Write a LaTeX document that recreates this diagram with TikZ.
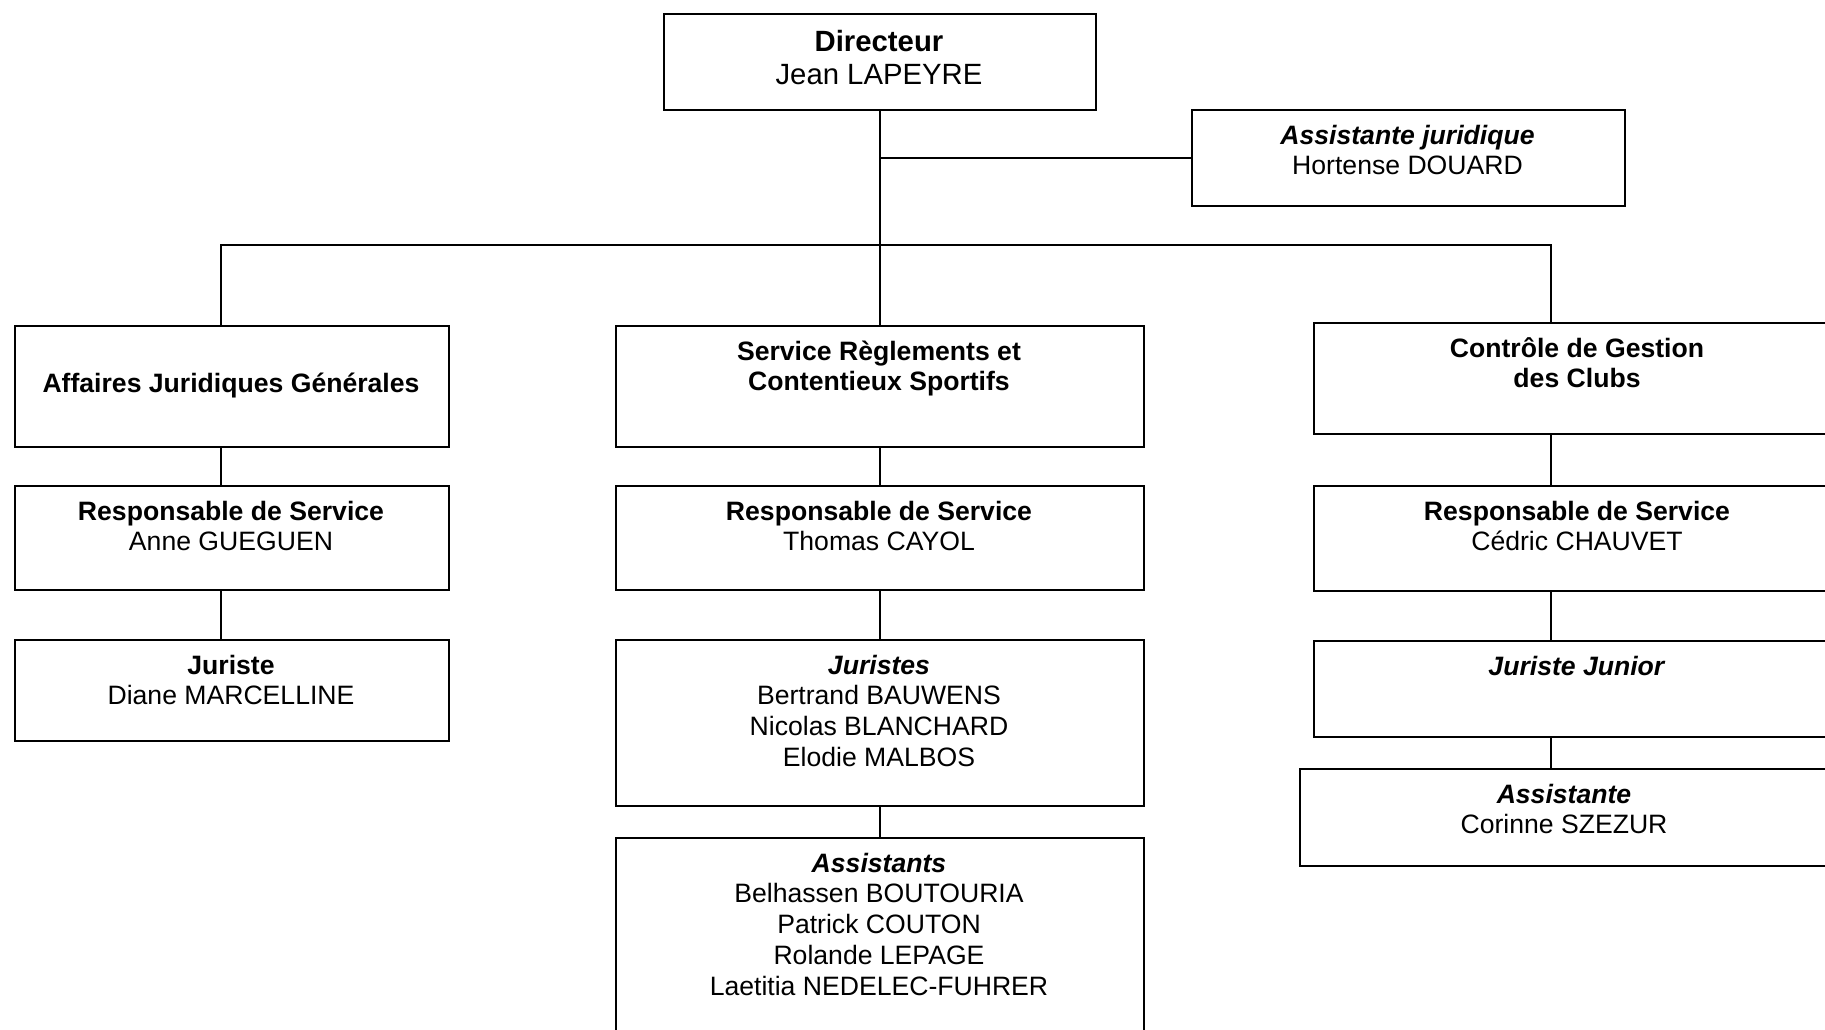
\documentclass[tikz,border=0pt]{standalone}
\usepackage{fontspec}
\setmainfont{Liberation Sans}
\begin{document}
\begin{tikzpicture}[x=1pt,y=-1pt,
  box/.style={draw, line width=1.6pt, rectangle, anchor=north west, inner sep=0pt},
  lbl/.style={anchor=north, align=center, inner sep=0pt, font=\fontsize{26.6}{30.8}\selectfont},
  biglbl/.style={anchor=north, align=center, inner sep=0pt, font=\fontsize{29.3}{33.7}\selectfont},
  link/.style={line width=1.6pt}]
\useasboundingbox (0,0) rectangle (1825,1029);
\clip (0,0) rectangle (1825,1029);
% boxes
\node[box, minimum width=432pt, minimum height=96pt] (dir) at (663,13) {};
\node[box, minimum width=433pt, minimum height=96pt] (asj) at (1191,109) {};
\node[box, minimum width=434pt, minimum height=121pt] (ajg) at (14,325) {};
\node[box, minimum width=528pt, minimum height=121pt] (srcs) at (615,325) {};
\node[box, minimum width=528pt, minimum height=111pt] (cgc) at (1313,322) {};
\node[box, minimum width=434pt, minimum height=104pt] (respL) at (14,485) {};
\node[box, minimum width=528pt, minimum height=104pt] (respM) at (615,485) {};
\node[box, minimum width=528pt, minimum height=105pt] (respR) at (1313,485) {};
\node[box, minimum width=434pt, minimum height=101pt] (jurL) at (14,639) {};
\node[box, minimum width=528pt, minimum height=166pt] (jurM) at (615,639) {};
\node[box, minimum width=528pt, minimum height=96pt] (jjR) at (1313,640) {};
\node[box, minimum width=528pt, minimum height=230pt] (asstM) at (615,837) {};
\node[box, minimum width=530pt, minimum height=97pt] (asstR) at (1299,768) {};
% texts
\node[biglbl] (tdir) at (879,27.4) {\strut\textbf{Directeur}\\Jean LAPEYRE};
\node[lbl] (tasj) at (1407.5,122.4) {\strut\textbf{\textit{Assistante juridique}}\\Hortense DOUARD};
\node[lbl] (tajg) at (231,370.4) {\strut\textbf{Affaires Juridiques Générales}};
\node[lbl] (tsrcs) at (879,338.4) {\strut\textbf{Service Règlements et}\\\textbf{Contentieux Sportifs}};
\node[lbl] (tcgc) at (1577,335.4) {\strut\textbf{Contrôle de Gestion}\\\textbf{des Clubs}};
\node[lbl] (trespL) at (231,498.4) {\strut\textbf{Responsable de Service}\\Anne GUEGUEN};
\node[lbl] (trespM) at (879,498.4) {\strut\textbf{Responsable de Service}\\Thomas CAYOL};
\node[lbl] (trespR) at (1577,498.4) {\strut\textbf{Responsable de Service}\\Cédric CHAUVET};
\node[lbl] (tjurL) at (231,652.4) {\strut\textbf{Juriste}\\Diane MARCELLINE};
\node[lbl] (tjurM) at (879,652.4) {\strut\textbf{\textit{Juristes}}\\Bertrand BAUWENS\\Nicolas BLANCHARD\\Elodie MALBOS};
\node[lbl] (tjjR) at (1577,653.4) {\strut\textbf{\textit{Juriste Junior}}};
\node[lbl] (tasstM) at (879,850.4) {\strut\textbf{\textit{Assistants}}\\Belhassen BOUTOURIA\\Patrick COUTON\\Rolande LEPAGE\\Laetitia NEDELEC-FUHRER};
\node[lbl] (tasstR) at (1564,781.4) {\strut\textbf{\textit{Assistante}}\\Corinne SZEZUR};
% connectors
\coordinate (busL) at (221,245);
\coordinate (busR) at (1551,245);
\draw[link] (dir.south) -- (srcs.north);
\draw[link] (dir.south |- asj.west) -- (asj.west);
\draw[link] (busL |- ajg.north) -- (busL) -- (busR) -- (busR |- cgc.north);
\draw[link] (busL |- ajg.south) -- (busL |- respL.north);
\draw[link] (busL |- respL.south) -- (busL |- jurL.north);
\draw[link] (srcs.south) -- (respM.north);
\draw[link] (respM.south) -- (jurM.north);
\draw[link] (jurM.south) -- (asstM.north);
\draw[link] (busR |- cgc.south) -- (busR |- respR.north);
\draw[link] (busR |- respR.south) -- (busR |- jjR.north);
\draw[link] (busR |- jjR.south) -- (busR |- asstR.north);
\end{tikzpicture}
\end{document}
